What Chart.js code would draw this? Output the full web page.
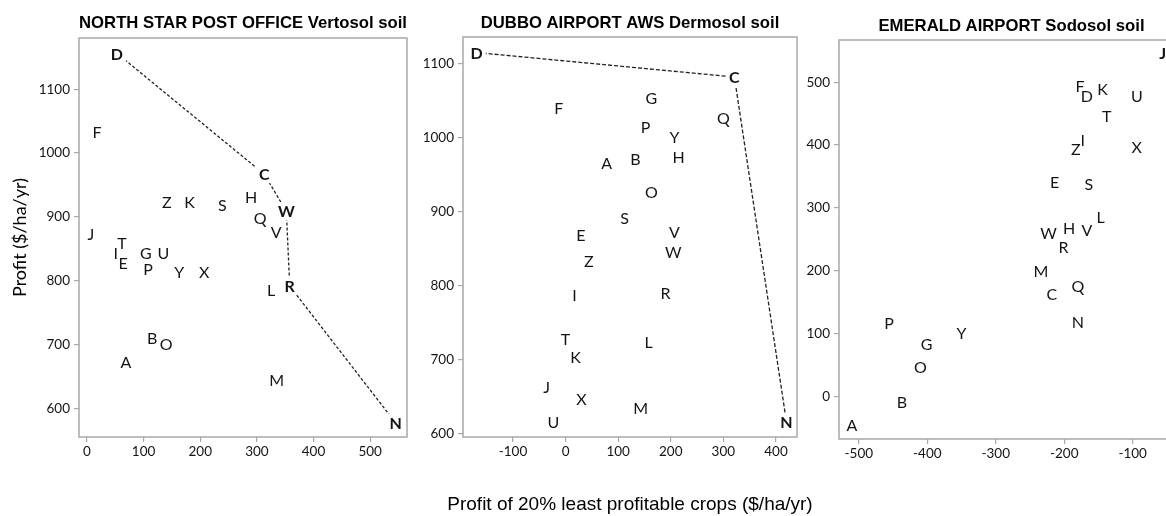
<!DOCTYPE html>
<html>
<head>
<meta charset="utf-8">
<script src="https://cdn.jsdelivr.net/npm/chart.js@4/dist/chart.umd.min.js"></script>
<style>
  html, body { margin: 0; padding: 0; background: #fff; overflow: hidden; width: 1166px; height: 516px; }
  canvas { position: absolute; top: 0; }
</style>
</head>
<body>
<canvas id="north" width="420" height="470" style="left:0px"></canvas>
<canvas id="dubbo" width="430" height="516" style="left:410px"></canvas>
<canvas id="emerald" width="410" height="470" style="left:790px"></canvas>
<script>
// crop options, same order in every panel
const crops = ['A','B','C','D','E','F','G','H','I','J','K','L','M','N','O','P','Q','R','S','T','U','V','W','X','Y','Z'];

// North Star Post Office, Vertosol
const northX = [69, 115, 313, 53, 64, 18, 104, 290, 51, 7, 181, 325, 335, 545, 140, 108, 306, 358, 239, 62, 135, 334, 352, 207, 163, 141];
const northY = [673, 711, 967, 1156, 828, 1033, 844, 931, 844, 873, 923, 786, 645, 578, 702, 819, 898, 792, 919, 859, 844, 877, 909, 815, 814, 924];
const northFrontier = ['D', 'C', 'W', 'R', 'N'];
const northXTicks = [0, 100, 200, 300, 400, 500];
const northYTicks = [600, 700, 800, 900, 1000, 1100];

// Dubbo Airport AWS, Dermosol
const dubboX = [78, 133, 321, -169, 29, -13, 163, 215, 17, -36, 19, 158, 143, 420, 163, 152, 300, 190, 112, 0, -23, 207, 205, 30, 207, 44];
const dubboY = [966, 971, 1082, 1115, 869, 1040, 1054, 974, 788, 664, 704, 724, 636, 616, 927, 1015, 1027, 791, 892, 728, 616, 873, 846, 647, 1001, 834];
const dubboFrontier = ['D', 'C', 'N'];
const dubboXTicks = [-100, 0, 100, 200, 300, 400];
const dubboYTicks = [600, 700, 800, 900, 1000, 1100];

// Emerald Airport, Sodosol
const emeraldX = [-510, -437, -218, -167, -214, -177, -401, -193, -173, -56, -144, -147, -234, -180, -410, -456, -180, -201, -164, -138, -94, -167, -223, -94, -350, -183];
const emeraldY = [-44, -8, 163, 479, 341, 494, 84, 268, 408, 546, 489, 286, 200, 119, 48, 117, 176, 238, 339, 446, 479, 265, 260, 397, 102, 394];
const emeraldFrontier = ['J'];
const emeraldXTicks = [-500, -400, -300, -200, -100];
const emeraldYTicks = [0, 100, 200, 300, 400, 500];

const GREY = '#a8a8a8';
const INK = '#141414';

const frameAndLetters = {
  id: 'frameAndLetters',
  beforeDatasetsDraw(chart) {
    const a = chart.chartArea;
    const ctx = chart.ctx;
    ctx.save();
    ctx.strokeStyle = GREY;
    ctx.lineWidth = 1.5;
    ctx.strokeRect(a.left, a.top, a.right - a.left, a.bottom - a.top);
    ctx.restore();
  },
  afterDatasetsDraw(chart, args, opts) {
    const ctx = chart.ctx;
    const meta = chart.getDatasetMeta(0);
    ctx.save();
    ctx.textAlign = 'center';
    ctx.textBaseline = 'middle';
    meta.data.forEach((pt, i) => {
      const name = crops[i];
      const bold = opts.bold.includes(name);
      ctx.font = (bold ? 'bold ' : '') + '16px Lato';
      if (bold) {
        const w = ctx.measureText(name).width;
        ctx.fillStyle = '#fff';
        ctx.fillRect(pt.x - w / 2 - 3, pt.y - 9, w + 6, 18);
      }
      ctx.fillStyle = INK;
      ctx.fillText(name, pt.x, pt.y + 1);
    });
    const a = chart.chartArea;
    const cx = (a.left + a.right) / 2;
    ctx.fillStyle = '#000';
    // shared x-axis title sits under the middle panel; wider than its plot box
    if (opts.xTitle) {
      ctx.font = '19px "Liberation Sans"';
      ctx.fillText(opts.xTitle, cx, 505);
    }
    // panel title, centred on the plot box
    ctx.font = 'bold 16.7px "Liberation Sans"';
    ctx.textBaseline = 'alphabetic';
    ctx.fillText(opts.title, cx, opts.titleY);
    ctx.restore();
  }
};

function makePanel(id, cfg) {
  const points = cfg.xs.map((x, i) => ({ x, y: cfg.ys[i] }));
  const line = cfg.frontier.map(c => points[crops.indexOf(c)]);
  const tickFont = { family: 'Lato', size: 13.5 };
  const plain = v => String(v);
  return new Chart(document.getElementById(id), {
    type: 'scatter',
    data: {
      datasets: [
        { data: points, pointRadius: 0, pointHoverRadius: 0 },
        {
          data: line,
          showLine: true,
          pointRadius: 0,
          borderColor: '#222',
          borderWidth: 1.3,
          borderDash: cfg.dash
        }
      ]
    },
    options: {
      responsive: false,
      animation: false,
      events: [],
      layout: { padding: cfg.padding },
      plugins: {
        legend: { display: false },
        tooltip: { enabled: false },
        frameAndLetters: { bold: cfg.frontier, title: cfg.title, titleY: cfg.titleY, xTitle: cfg.xTitle }
      },
      scales: {
        x: {
          min: cfg.xRange[0], max: cfg.xRange[1],
          afterBuildTicks: s => { s.ticks = cfg.xTicks.map(v => ({ value: v })); },
          afterFit: s => { s.height = cfg.xAxisH; },
          grid: { drawOnChartArea: false, color: GREY, tickLength: 5, lineWidth: 1.2 },
          border: { display: false },
          ticks: { color: INK, font: tickFont, padding: 2, maxRotation: 0, callback: plain }
        },
        y: {
          min: cfg.yRange[0], max: cfg.yRange[1],
          afterBuildTicks: s => { s.ticks = cfg.yTicks.map(v => ({ value: v })); },
          afterFit: s => { s.width = cfg.yAxisW; },
          grid: { drawOnChartArea: false, color: GREY, tickLength: 5, lineWidth: 1.2 },
          border: { display: false },
          ticks: { color: INK, font: tickFont, padding: 4, callback: plain },
          title: cfg.yTitle
            ? { display: true, text: cfg.yTitle, color: '#000', font: { family: 'Lato', size: 18 }, padding: { top: 9, bottom: 0 } }
            : { display: false }
        }
      }
    },
    plugins: [frameAndLetters]
  });
}

makePanel('north', {
  title: 'NORTH STAR POST OFFICE Vertosol soil', titleY: 28,
  xs: northX, ys: northY, frontier: northFrontier, dash: [3, 2],
  xTicks: northXTicks, yTicks: northYTicks,
  xRange: [-14, 565], yRange: [556, 1180],
  padding: { top: 38, right: 13, left: 0, bottom: 0 },
  yAxisW: 79, xAxisH: 33,
  yTitle: 'Profit ($/ha/yr)'
});

makePanel('dubbo', {
  title: 'DUBBO AIRPORT AWS Dermosol soil', titleY: 28,
  xs: dubboX, ys: dubboY, frontier: dubboFrontier, dash: [4, 2],
  xTicks: dubboXTicks, yTicks: dubboYTicks,
  xRange: [-195, 440], yRange: [596, 1136],
  padding: { top: 37, right: 43, left: 0, bottom: 0 },
  yAxisW: 53, xAxisH: 79,
  xTitle: 'Profit of 20% least profitable crops ($/ha/yr)'
});

makePanel('emerald', {
  title: 'EMERALD AIRPORT Sodosol soil', titleY: 31,
  xs: emeraldX, ys: emeraldY, frontier: emeraldFrontier, dash: [4, 2],
  xTicks: emeraldXTicks, yTicks: emeraldYTicks,
  xRange: [-529, -25], yRange: [-67, 567],
  padding: { top: 40, right: 16, left: 0, bottom: 0 },
  yAxisW: 49, xAxisH: 31
});
</script>
</body>
</html>
